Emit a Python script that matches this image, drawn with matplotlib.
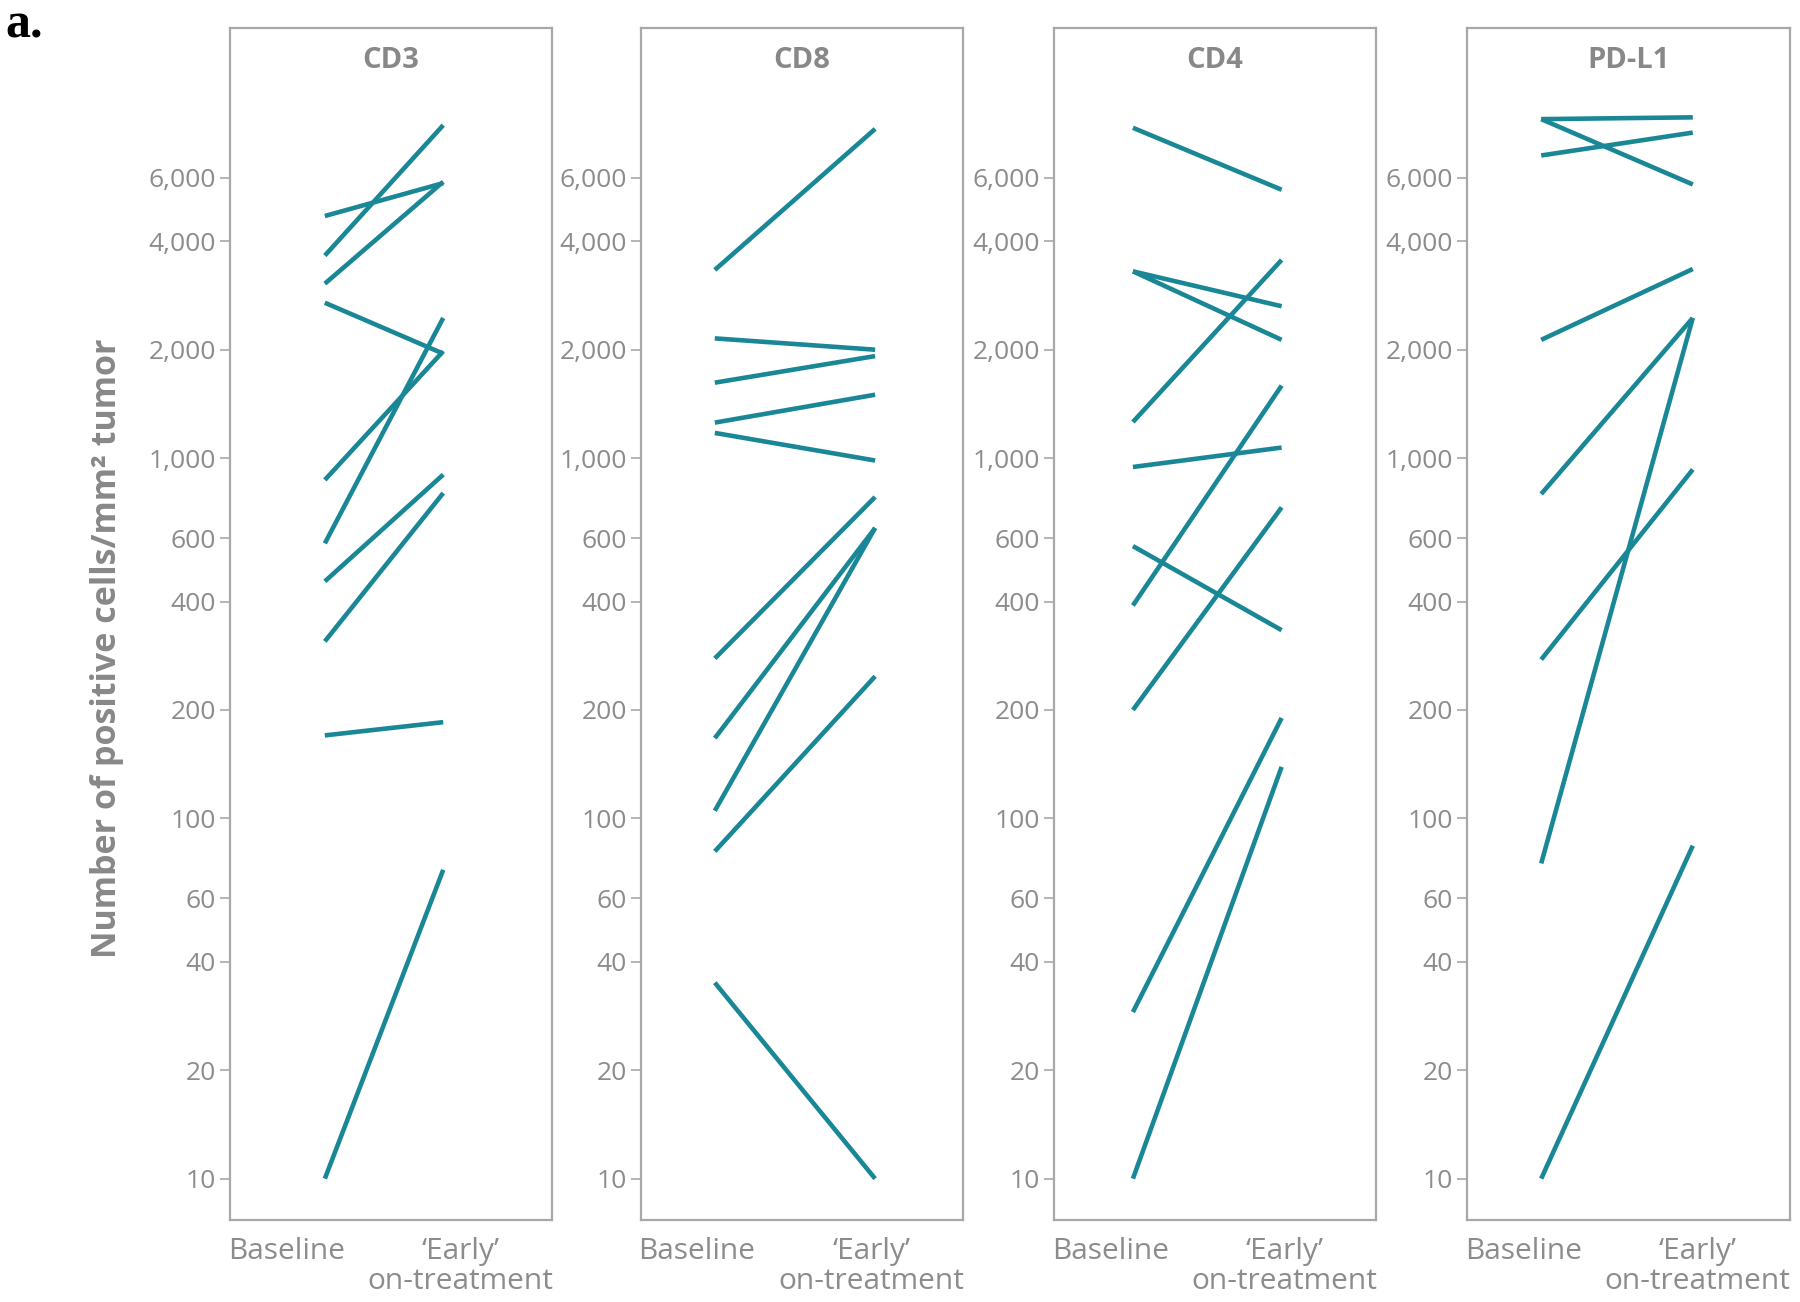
import matplotlib
matplotlib.use('Agg')
import matplotlib.pyplot as plt
from matplotlib.ticker import FixedLocator, FuncFormatter, NullLocator

plt.rcParams['font.family'] = ['Open Sans', 'DejaVu Sans']

# values (cells/mm2), baseline -> 'early' on-treatment
markers = ['CD3', 'CD8', 'CD4', 'PD-L1']

cd3_base = [4700, 3650, 3050, 2700, 870, 580, 455, 310, 170, 10]
cd3_early = [5800, 8400, 5850, 1950, 1980, 2450, 900, 800, 185, 72]

cd8_base = [3330, 2150, 1620, 1255, 1175, 278, 167, 105, 81, 35]
cd8_early = [8200, 2000, 1920, 1500, 985, 780, 640, 640, 248, 10]

cd4_base = [8260, 3300, 3300, 1260, 945, 570, 390, 200, 29, 10]
cd4_early = [5560, 2640, 2130, 3550, 1070, 333, 1590, 730, 190, 139]

pdl1_base = [8730, 8730, 6920, 2130, 795, 276, 75, 10]
pdl1_early = [8830, 5750, 8010, 3350, 2450, 930, 2450, 84]

yticks = [10, 20, 40, 60, 100, 200, 400, 600, 1000, 2000, 4000, 6000]
xlabels = ['Baseline', '\u2018Early\u2019\non-treatment']

series = [(cd3_base, cd3_early), (cd8_base, cd8_early),
          (cd4_base, cd4_early), (pdl1_base, pdl1_early)]

# layout: panel left edges (fig fraction) and where baseline/early sit inside each box
lefts = [0.1276, 0.3559, 0.5855, 0.8150]
width = 0.1792
bottom = 0.0630
height = 0.9158
xpos = [(0.295, 0.662), (0.23, 0.727), (0.245, 0.706), (0.23, 0.70)]
label_frac = (0.175, 0.715)

teal = '#1a8797'
grey = '#8c8c8c'
edge = '#a8a8a8'

fig = plt.figure(figsize=(18, 13.02), dpi=100)

for i, name in enumerate(markers):
    ax = fig.add_axes([lefts[i], bottom, width, height])
    base, early = series[i]
    f0, f1 = xpos[i]
    unit = f1 - f0
    x0 = -f0 / unit
    x1 = (1 - f0) / unit
    ax.set_xlim(x0, x1)
    ax.set_yscale('log')
    ax.set_ylim(7.68, 15670)

    for b, e in zip(base, early):
        ax.plot([0, 1], [b, e], color=teal, lw=3.3, solid_capstyle='butt')

    ax.yaxis.set_major_locator(FixedLocator(yticks))
    ax.yaxis.set_minor_locator(NullLocator())
    ax.yaxis.set_major_formatter(FuncFormatter(lambda v, p: f'{int(v):,}'))

    ax.set_xticks([x0 + label_frac[0] * (x1 - x0), x0 + label_frac[1] * (x1 - x0)])
    ax.set_xticklabels(xlabels, linespacing=1.05)
    ax.tick_params(axis='x', length=0, pad=12, labelsize=21.5, labelcolor=grey)
    ax.tick_params(axis='y', length=7, width=1.2, color=edge, pad=3,
                   labelsize=19, labelcolor=grey)

    for s in ax.spines.values():
        s.set_color(edge)
        s.set_linewidth(1.6)

    ax.text(0.5, 0.972, name, transform=ax.transAxes, ha='center', va='center',
            fontsize=21, fontweight='bold', color='#888888')

fig.text(107 / 1800, 0.502, 'Number of positive cells/mm\u00b2 tumor', rotation=90,
         ha='center', va='center', fontsize=24.5, fontweight='bold', color='#888888')

fig.text(0.003, 0.971, 'a.', ha='left', va='baseline', fontsize=36,
         fontweight='bold', family=['Liberation Serif', 'DejaVu Serif'], color='black')

fig.savefig('out.png', dpi=100)
